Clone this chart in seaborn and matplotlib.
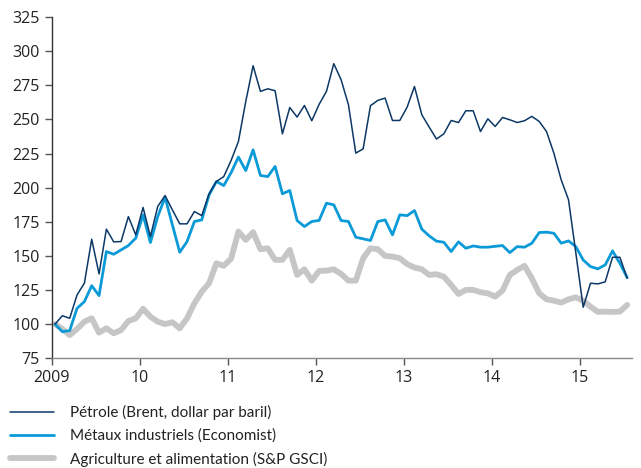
import numpy as np
import pandas as pd
import seaborn as sns
import matplotlib.pyplot as plt

# Monthly index values, Jan 2009 = 100 (Jan 2009 .. Jul 2015)
petrole = [100, 106.2, 104.3, 121.4, 130, 162.2, 136.8, 169.6, 160.3, 160.5, 178.8, 165.4,
           185.5, 164.2, 186.2, 194.2, 183.7, 173.5, 173.5, 182.5, 179.5, 195.5, 204.5, 208.1,
           219.9, 233.8, 263.1, 289.3, 270.5, 272.4, 271, 239.4, 258.7, 251.7, 260.2, 249,
           261, 270.5, 290.8, 279, 260.7, 225.3, 228.4, 260, 263.9, 265.6, 249.2, 249.2,
           259, 274.1, 253.4, 244.4, 235.6, 239.4, 249.2, 247.7, 256.3, 256.3, 241.1, 250.4,
           244.8, 251.4, 249.7, 247.7, 249, 252.2, 248.5, 241.1, 225.3, 205.7, 191.1, 152,
           112.4, 130, 129.5, 131, 149, 149, 133.6]

metaux = [100, 94.5, 95.3, 111.6, 116.5, 128.2, 120.9, 153.2, 151.2, 154.4, 157.6, 163,
          180, 159.8, 178.8, 193, 172.7, 152.7, 160.5, 175.2, 176.4, 194.7, 204.5, 201.5,
          211, 222.4, 212.5, 227.7, 208.9, 208.1, 215.5, 195.5, 197.9, 175.9, 171.5, 175.2,
          176, 188.6, 187.4, 175.9, 175.2, 163.7, 162.5, 161.3, 175.2, 176.4, 165.4, 180.1,
          179.5, 183.2, 169.6, 164.7, 160.8, 160, 153.2, 160.3, 155.6, 157.3, 156.4, 156.4,
          157, 157.6, 152.4, 156.8, 156.4, 159.3, 167.1, 167.4, 166.6, 159.3, 161, 156.8,
          147, 142.2, 140.5, 143.4, 153.7, 144.6, 134.1]

agriculture = [100, 96.5, 92, 96.5, 101.8, 104.3, 93.8, 97, 93.3, 95.7, 102.3, 104.3,
               111.3, 105.5, 101.8, 100.1, 101.4, 97, 104.3, 115.3, 123.8, 130, 144.6, 142.7,
               148, 167.8, 161.7, 167.4, 154.9, 155.6, 147.1, 147.1, 154.4, 136.1, 140.2, 131.9,
               139, 139.2, 140.2, 136.8, 131.9, 131.9, 148.3, 155.6, 154.9, 150, 149.5, 148.3,
               144, 141.5, 140.2, 136.1, 136.6, 134.8, 128.7, 122.1, 125.1, 125.1, 123.4, 122.6,
               120.2, 124.6, 136.1, 139.7, 142.7, 133.6, 122.6, 118.2, 117.2, 115.8, 118.2, 119.7,
               117.2, 112.8, 109, 109.2, 109, 109.2, 114.1]

labels = ["Pétrole (Brent, dollar par baril)",
          "Métaux industriels (Economist)",
          "Agriculture et alimentation (S&P GSCI)"]
year_ticks = [2009, 2010, 2011, 2012, 2013, 2014, 2015]
year_labels = ["2009", "10", "11", "12", "13", "14", "15"]
y_ticks = [75, 100, 125, 150, 175, 200, 225, 250, 275, 300, 325]

n = len(petrole)
t = 2009 + (np.arange(n) + 0.45) / 12
df = pd.DataFrame({"t": t, labels[0]: petrole, labels[1]: metaux, labels[2]: agriculture})

sns.set_style("ticks")
plt.rcParams["font.family"] = ["Open Sans", "DejaVu Sans"]

fig = plt.figure(figsize=(6.41, 4.68), dpi=100)
ax = fig.add_axes([0.0807, 0.2344, 0.905, 0.7293])

# draw back to front: grey, blue, navy
sns.lineplot(data=df, x="t", y=labels[2], ax=ax, color="#c6c6c6", linewidth=4.2,
             label=labels[2], zorder=2)
sns.lineplot(data=df, x="t", y=labels[1], ax=ax, color="#0a9ad8", linewidth=2.0,
             label=labels[1], zorder=3)
sns.lineplot(data=df, x="t", y=labels[0], ax=ax, color="#0c3866", linewidth=1.1,
             label=labels[0], zorder=4)

ax.set_xlim(2009, 2015.59)
ax.set_ylim(75, 325)
ax.set_xticks(year_ticks)
ax.set_xticklabels(year_labels)
ax.set_yticks(y_ticks)
ax.set_xlabel("")
ax.set_ylabel("")
ax.tick_params(axis="both", labelsize=11.5, colors="#555555", labelcolor="#222222",
               length=5, width=1)
for side in ["top", "right"]:
    ax.spines[side].set_visible(False)
ax.spines["left"].set_color("#333333")
ax.spines["bottom"].set_color("#888888")
for side in ["left", "bottom"]:
    ax.spines[side].set_linewidth(1)

handles, labs = ax.get_legend_handles_labels()
order = [labs.index(l) for l in labels]
leg = ax.legend([handles[i] for i in order], [labs[i] for i in order],
                loc="upper left", bbox_to_anchor=(0.0156, 0.134), bbox_transform=fig.transFigure,
                frameon=False, prop={"family": ["Lato", "DejaVu Sans"], "size": 11},
                handlelength=2.85, handletextpad=1.1,
                labelspacing=0.55, borderpad=0, borderaxespad=0)
for txt in leg.get_texts():
    txt.set_color("#222222")

fig.savefig("out.png", dpi=100)
